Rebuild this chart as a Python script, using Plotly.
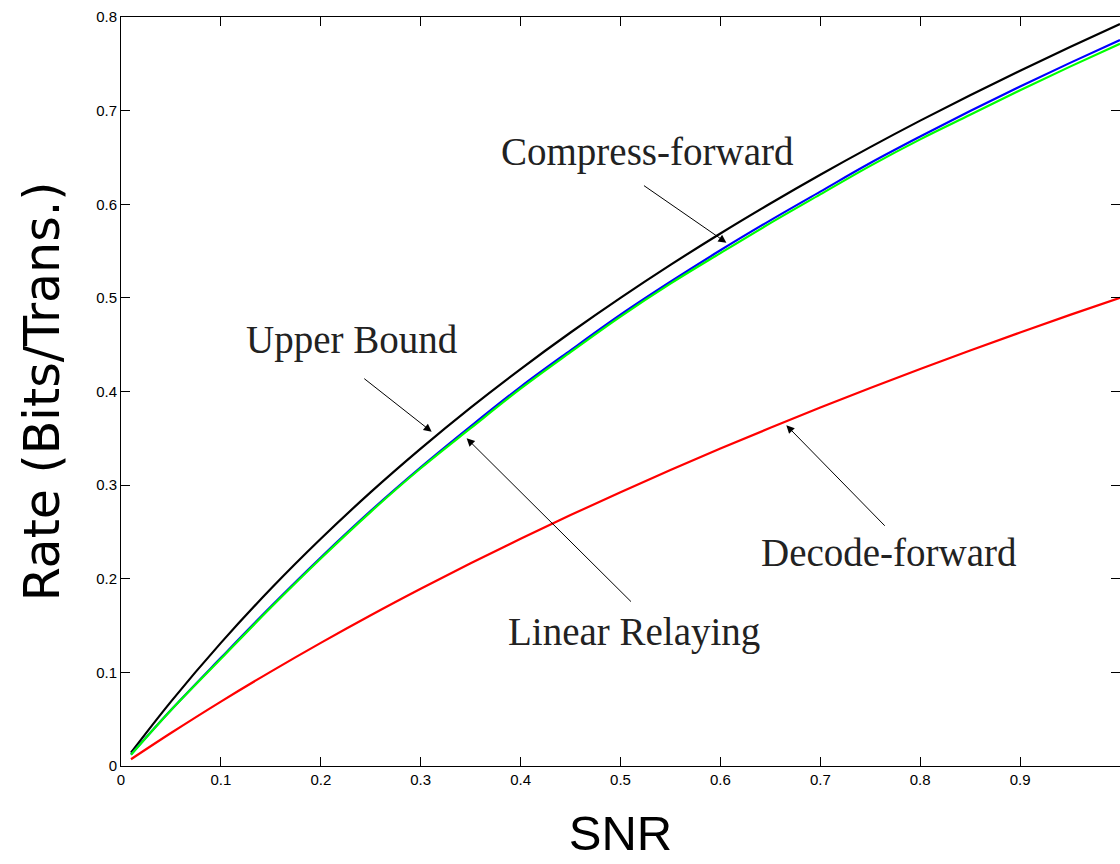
import plotly.graph_objects as go

snr = [0.01, 0.05, 0.1, 0.15, 0.2, 0.25, 0.3, 0.35, 0.4, 0.45, 0.5,
       0.55, 0.6, 0.65, 0.7, 0.75, 0.8, 0.85, 0.9, 0.95, 1.0]
upper_bound = [0.0143, 0.0688, 0.1315, 0.1893, 0.2427, 0.2925, 0.3390, 0.3828, 0.4240, 0.4630, 0.5000,
               0.5352, 0.5688, 0.6008, 0.6315, 0.6610, 0.6893, 0.7165, 0.7427, 0.7680, 0.7925]
compress_forward = [0.0123, 0.0598, 0.1155, 0.1703, 0.2227, 0.2725, 0.3190, 0.3628, 0.4050, 0.4440, 0.4820,
                    0.5172, 0.5508, 0.5828, 0.6135, 0.6440, 0.6723, 0.6995, 0.7257, 0.7510, 0.7755]
linear_relaying = [0.0120, 0.0595, 0.1145, 0.1693, 0.2217, 0.2715, 0.3180, 0.3608, 0.4030, 0.4420, 0.4800,
                   0.5152, 0.5478, 0.5798, 0.6105, 0.6410, 0.6693, 0.6955, 0.7217, 0.7470, 0.7715]
decode_forward = [0.0072, 0.0352, 0.0688, 0.1008, 0.1315, 0.1610, 0.1893, 0.2165, 0.2427, 0.2680, 0.2925,
                  0.3161, 0.3390, 0.3612, 0.3828, 0.4037, 0.4240, 0.4438, 0.4630, 0.4818, 0.5000]

x_ticks = [0, 0.1, 0.2, 0.3, 0.4, 0.5, 0.6, 0.7, 0.8, 0.9]
x_tick_labels = ["0", "0.1", "0.2", "0.3", "0.4", "0.5", "0.6", "0.7", "0.8", "0.9"]
y_ticks = [0, 0.1, 0.2, 0.3, 0.4, 0.5, 0.6, 0.7, 0.8]
y_tick_labels = ["0", "0.1", "0.2", "0.3", "0.4", "0.5", "0.6", "0.7", "0.8"]

# label text, text position, arrow tail, arrow head (data coords)
labels = [
    ("Compress-forward", 0.527, 0.656, 0.522, 0.621, 0.606, 0.559),
    ("Upper Bound", 0.231, 0.455, 0.242, 0.415, 0.311, 0.357),
    ("Linear Relaying", 0.514, 0.143, 0.512, 0.174, 0.346, 0.350),
    ("Decode-forward", 0.769, 0.228, 0.766, 0.255, 0.666, 0.364),
]

fig = go.Figure()
fig.add_trace(go.Scatter(x=snr, y=upper_bound, mode="lines", line=dict(color="#000000", width=2.2, shape="spline"), name="Upper Bound"))
fig.add_trace(go.Scatter(x=snr, y=compress_forward, mode="lines", line=dict(color="#0000ff", width=2.2, shape="spline"), name="Compress-forward"))
fig.add_trace(go.Scatter(x=snr, y=linear_relaying, mode="lines", line=dict(color="#00ff00", width=2.2, shape="spline"), name="Linear Relaying"))
fig.add_trace(go.Scatter(x=snr, y=decode_forward, mode="lines", line=dict(color="#ff0000", width=2.2, shape="spline"), name="Decode-forward"))

annotations = []
for text, tx, ty, ax, ay, hx, hy in labels:
    annotations.append(dict(x=tx, y=ty, xref="x", yref="y", text=text, showarrow=False,
                            font=dict(family="Liberation Serif", size=39, color="#222222")))
    annotations.append(dict(x=hx, y=hy, xref="x", yref="y", ax=ax, ay=ay, axref="x", ayref="y",
                            text="", showarrow=True, arrowhead=2, arrowsize=1.6, arrowwidth=1,
                            arrowcolor="#000000", standoff=0, startstandoff=0))

axis_common = dict(showgrid=False, zeroline=False, showline=True, linecolor="#000000", linewidth=1,
                   mirror="ticks", ticks="inside", ticklen=9, tickcolor="#000000", tickwidth=1,
                   tickfont=dict(family="Liberation Sans", size=15, color="#000000"))

fig.update_layout(
    width=1120, height=864,
    margin=dict(l=121, r=0, t=17, b=98),
    paper_bgcolor="white", plot_bgcolor="white",
    showlegend=False,
    annotations=annotations,
    xaxis=dict(range=[0, 1], tickvals=x_ticks, ticktext=x_tick_labels,
               title=dict(text="SNR", font=dict(family="Liberation Sans", size=49, color="#000000"), standoff=28),
               **axis_common),
    yaxis=dict(range=[0, 0.8], tickvals=y_ticks, ticktext=y_tick_labels,
               title=dict(text="Rate (Bits/Trans.)", font=dict(family="DejaVu Sans", size=49, color="#000000"), standoff=20),
               **axis_common),
)

fig.write_html("out.html")
